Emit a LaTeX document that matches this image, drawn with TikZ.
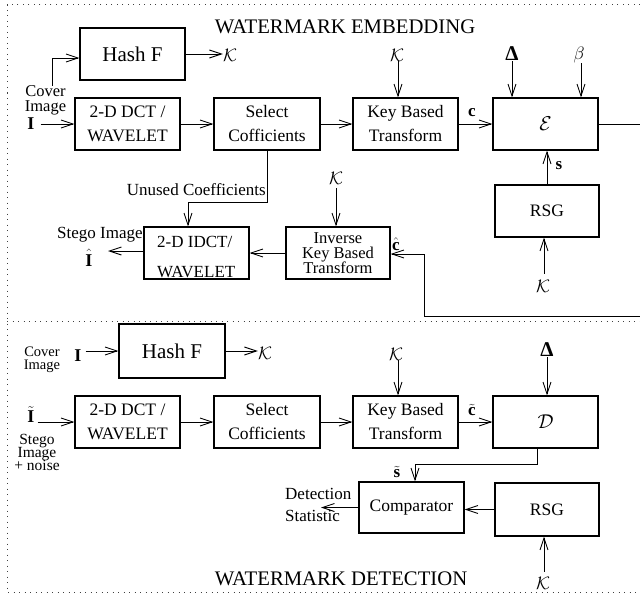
\documentclass[tikz,border=0pt]{standalone}
\usepackage{fix-cm}
\usepackage{fontspec}
\setmainfont{Liberation Serif}
\usetikzlibrary{arrows.meta}
\begin{document}
\begin{tikzpicture}[x=1pt,y=-1pt,
  box/.style={draw, line width=1.1pt, minimum width=105pt, minimum height=52pt, inner sep=0pt, align=center, font=\fontsize{17.5}{24}\selectfont},
  bigtxt/.style={font=\fontsize{21}{21}\selectfont},
  lbl/.style={inner sep=0pt, font=\fontsize{17}{17}\selectfont},
  sym/.style={inner sep=0pt, font=\fontsize{18}{18}\selectfont},
  dsym/.style={inner sep=0pt, font=\fontsize{21}{21}\selectfont\bfseries},
  conn/.style={line width=0.9pt, -{Straight Barb[length=12pt,width=8pt]}},
  wire/.style={line width=0.9pt},
  frame/.style={line width=1pt, dash pattern=on 1pt off 4.5pt, black!75},
  title/.style={inner sep=0pt, font=\fontsize{20.7}{20.7}\selectfont}
]
\useasboundingbox (0,0) rectangle (640,599);

% frame
\draw[frame] (640,5) -- (7,5) -- (7,592) -- (640,592);
\draw[frame] (7,321) -- (640,321);

% ---------------- embedding ----------------
\node[title] (titleA) at (345,27) {WATERMARK EMBEDDING};

\node[box, bigtxt] (hashA) at (132.5,54) {Hash F};
\node[box] (dctA) at (127.5,124) {2-D DCT /\\ WAVELET};
\node[box, minimum width=106pt] (selA) at (267,124) {Select\\ Cofficients};
\node[box] (kbtA) at (405.5,124) {Key Based\\ Transform};
\node[box, font=\fontsize{20}{20}\selectfont] (encA) at (545.5,124) {$\mathcal{E}$};
\node[box, minimum width=104pt] (rsgA) at (547,211) {RSG};
\node[box] (idctA) at (196.5,253) {};
\node[lbl, anchor=base west] (idctT1) at (157,247) {2-D IDCT/};
\node[lbl, anchor=base west] (idctT2) at (157,277) {WAVELET};
\node[box, minimum width=104pt, font={\fontsize{16.5}{15}\selectfont\lineskiplimit=-20pt}] (ikbtA) at (338,253) {Inverse\\ Key Based\\ Transform};

\node[lbl, align=center, font={\fontsize{16.5}{15.5}\selectfont\lineskiplimit=-20pt}] (coverA) at (45.5,100.5) {Cover\\ Image};
\node[sym] (IA) at (31,124) {$\mathbf{I}$};
\coordinate (coverTop) at (52,86);
\draw[conn] (coverTop) |- ([yshift=-4pt]hashA.west);
\draw[conn, shorten <=6pt] (IA.east) -- (dctA.west);

\node[sym] (kHA) at (230,55) {$\mathcal{K}$};
\draw[conn] (hashA.east) -- (hashA.east -| kHA.west);

\draw[conn] (dctA) -- (selA);
\draw[conn] (selA) -- (kbtA);
\draw[conn] (kbtA) -- (encA);
\coordinate (eOut) at (640,124);
\draw[wire] (encA.east) -- (eOut);

\node[sym] (kA1) at (397,55) {$\mathcal{K}$};
\draw[conn] ([xshift=1pt]kA1.south) -- ([xshift=1pt]kA1.south |- kbtA.north);
\node[dsym] (dA) at (512,54) {Δ};
\draw[conn] (dA) -- (dA |- encA.north);
\node[sym] (bA) at (579,55) {$\beta$};
\draw[conn] ([xshift=2pt]bA.south) -- ([xshift=2pt]bA.south |- encA.north);
\node[lbl] (cA) at (472,113) {$\mathbf{c}$};

\draw[conn] (rsgA) -- (rsgA |- encA.south);
\node[lbl] (sA) at (559,166) {$\mathbf{s}$};
\node[sym] (kA3) at (543,286) {$\mathcal{K}$};
\draw[conn, shorten <=6pt] ([xshift=1pt]kA3.north) -- ([xshift=1pt]kA3.north |- rsgA.south);

\coordinate (ret) at (640,316);
\coordinate (retCorner) at (424,316);
\draw[conn] (ret) -- (retCorner) |- ([yshift=-1pt]ikbtA.east);
\node[lbl] (chA) at (396,244) {$\hat{\mathbf{c}}$};

\node[sym] (kA2) at (336,178) {$\mathcal{K}$};
\draw[conn, shorten <=4pt] (kA2) -- (kA2 |- ikbtA.north);

\draw[conn] (ikbtA.west) -- (idctA.east);
\coordinate (stegoOut) at (108,251);
\draw[conn] ([yshift=2pt]idctA.west) -- (stegoOut);
\node[lbl, anchor=base west] (stegoA) at (57,238) {Stego Image};
\node[sym, anchor=base] (IhA) at (89,266) {$\hat{\mathbf{I}}$};

\coordinate (ucTurn) at (188,202);
\draw[conn] (selA.south) |- (ucTurn) -- (ucTurn |- idctA.north);
\node[lbl, anchor=base east] (ucLbl) at (266,196) {Unused Coefficients};

% ---------------- detection ----------------
\node[title] (titleB) at (341,579) {WATERMARK DETECTION};

\node[box, bigtxt, minimum width=106pt, minimum height=54pt] (hashB) at (172,351) {Hash F};
\node[box] (dctB) at (127.5,422) {2-D DCT /\\ WAVELET};
\node[box, minimum width=106pt] (selB) at (267,422) {Select\\ Cofficients};
\node[box] (kbtB) at (405.5,422) {Key Based\\ Transform};
\node[box, font=\fontsize{20}{20}\selectfont] (decB) at (545.5,422) {$\mathcal{D}$};
\node[box, minimum height=51pt] (compB) at (411.5,507.5) {Comparator};
\node[box, minimum width=104pt, minimum height=53pt] (rsgB) at (547,509.5) {RSG};

\node[lbl, align=center, font={\fontsize{14.5}{13}\selectfont\lineskiplimit=-20pt}] (coverB) at (42,360) {Cover\\ Image};
\node[sym] (IB) at (78,356) {$\mathbf{I}$};
\draw[conn, shorten <=4pt] (IB.east |- hashB) -- (hashB.west);
\node[sym] (kHB) at (265,353) {$\mathcal{K}$};
\draw[conn] (hashB.east) -- (hashB.east -| kHB.west);

\node[sym] (ItB) at (31,415) {$\tilde{\mathbf{I}}$};
\draw[conn, shorten <=3pt] (ItB.east |- dctB) -- (dctB.west);
\node[lbl, align=center, font={\fontsize{15.5}{13}\selectfont\lineskiplimit=-20pt}] (stegoB) at (37,452) {Stego\\ Image\\ + noise};

\draw[conn] (dctB) -- (selB);
\draw[conn] (selB) -- (kbtB);
\draw[conn] (kbtB) -- (decB);

\node[sym] (kB1) at (396,354) {$\mathcal{K}$};
\draw[conn] ([xshift=2pt]kB1.south) -- ([xshift=2pt]kB1.south |- kbtB.north);
\node[dsym] (dB) at (547,350) {Δ};
\draw[conn] (dB) -- (dB |- decB.north);
\node[lbl] (ctB) at (472,410) {$\tilde{\mathbf{c}}$};

\coordinate (dTurn) at (415,464);
\draw[conn] ([xshift=-8.5pt]decB.south) |- (dTurn) -- (dTurn |- compB.north);
\node[lbl] (stB) at (397,472) {$\tilde{\mathbf{s}}$};

\draw[conn] (rsgB.west) -- (rsgB.west -| compB.east);
\coordinate (detOut) at (321,507.5);
\draw[conn] (compB.west) -- (detOut);
\node[lbl, align=left, anchor=west, font=\fontsize{17}{22}\selectfont] (detLbl) at (285,505.3) {Detection\\ Statistic};

\node[sym] (kB2) at (543,583) {$\mathcal{K}$};
\draw[conn, shorten <=5pt] ([xshift=1pt]kB2.north) -- ([xshift=1pt]kB2.north |- rsgB.south);
\end{tikzpicture}
\end{document}
